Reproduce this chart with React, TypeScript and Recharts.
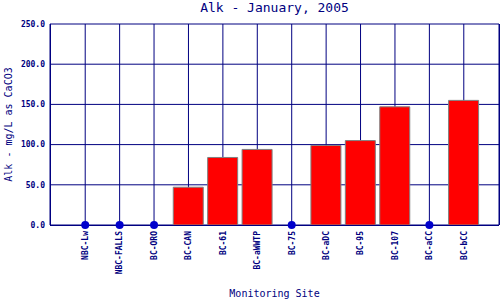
import React from 'react';
import {
  ComposedChart,
  Bar,
  Line,
  XAxis,
  YAxis,
  CartesianGrid,
  Label
} from 'recharts';

// Monitoring sites, January 2005
const sites = [
  'NBC-Lw', 'NBC-FALLS', 'BC-ORO', 'BC-CAN', 'BC-61', 'BC-aWWTP',
  'BC-75', 'BC-aDC', 'BC-95', 'BC-107', 'BC-aCC', 'BC-bCC'
];

// Alkalinity (mg/L as CaCO3); null = no sample
const alk = [null, null, null, 47, 84, 94, null, 99, 105, 147, null, 155];

// sites with no sample are marked on the zero line
const noSample = [0, 0, 0, null, null, null, 0, null, null, null, 0, null];

const yTicks = [0, 50, 100, 150, 200, 250];

const NAVY = '#000080';
const FONT = '"DejaVu Sans Mono", monospace';
const crisp = { stroke: NAVY, strokeWidth: 1, shapeRendering: 'crispEdges' } as any;

const data = sites.map((site, i) => ({ site, alk: alk[i], missing: noSample[i] }));

const SiteTick = (props: any) => {
  const { x, y, payload } = props;
  return (
    <text
      transform={`translate(${x}, ${y}) rotate(-90)`}
      textAnchor="end"
      dy="0.35em"
      fill={NAVY}
      fontSize={8}
      fontWeight="bold"
      fontFamily={FONT}
    >
      {payload.value}
    </text>
  );
};

export default function App() {
  return (
    <div style={{ position: 'fixed', left: 0, top: 0, width: 500, height: 300, background: '#fff' }}>
      <div
        style={{
          position: 'absolute',
          left: 50,
          top: 0,
          width: 449,
          height: 16,
          lineHeight: '16px',
          fontSize: 13,
          fontFamily: FONT,
          color: NAVY,
          textAlign: 'center'
        }}
      >
        Alk - January, 2005
      </div>
      <ComposedChart
        width={500}
        height={300}
        data={data}
        margin={{ top: 24, right: 0, bottom: 0, left: 0 }}
      >
        <CartesianGrid yAxisId="l" stroke={NAVY} horizontal={crisp} vertical={crisp} />
        <XAxis
          dataKey="site"
          interval={0}
          height={75}
          padding={{ left: 18, right: 18 }}
          axisLine={crisp}
          tickLine={false}
          tickSize={4}
          tickMargin={2}
          tick={<SiteTick />}
        >
          <Label
            content={(p: any) => (
              <text
                x={p.viewBox.x + p.viewBox.width / 2}
                y={p.viewBox.y + 72}
                textAnchor="middle"
                fill={NAVY}
                fontSize={10}
                fontFamily={FONT}
              >
                Monitoring Site
              </text>
            )}
          />
        </XAxis>
        <YAxis
          yAxisId="l"
          width={50}
          domain={[0, 250]}
          ticks={yTicks}
          interval={0}
          axisLine={crisp}
          tickLine={false}
          tickSize={3}
          tickMargin={2}
          tickFormatter={(v: number) => v.toFixed(1)}
          tick={{ fill: NAVY, fontSize: 8, fontWeight: 'bold', fontFamily: FONT }}
        >
          <Label
            content={(p: any) => {
              const cx = p.viewBox.x + 8;
              const cy = p.viewBox.y + p.viewBox.height / 2;
              return (
                <text
                  transform={`translate(${cx}, ${cy}) rotate(-90)`}
                  textAnchor="middle"
                  dy="0.35em"
                  fill={NAVY}
                  fontSize={10}
                  fontFamily={FONT}
                >
                  Alk - mg/L as CaCO3
                </text>
              );
            }}
          />
        </YAxis>
        <YAxis
          yAxisId="r"
          orientation="right"
          width={1}
          domain={[0, 250]}
          tick={false}
          tickLine={false}
          axisLine={crisp}
        />
        <Bar
          yAxisId="l"
          dataKey="alk"
          barSize={30}
          fill="#ff0000"
          stroke="#808080"
          strokeWidth={1}
          isAnimationActive={false}
        />
        <Line
          yAxisId="l"
          dataKey="missing"
          stroke="none"
          dot={{ r: 4, fill: '#0000cc', stroke: 'none' }}
          activeDot={false}
          isAnimationActive={false}
        />
      </ComposedChart>
    </div>
  );
}
